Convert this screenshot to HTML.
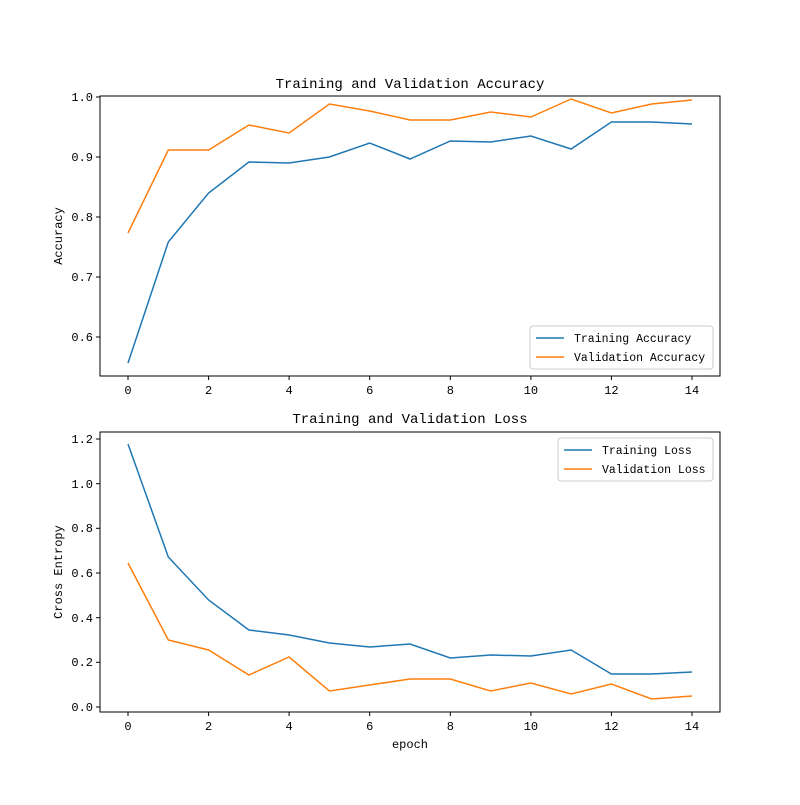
<!DOCTYPE html>
<html><head><meta charset="utf-8"><style>
body{margin:0;background:#fff}
svg text{font-family:"Liberation Mono","Noto Sans CJK SC",monospace;font-size:12px;fill:#000}
svg text.lg{font-size:11.5px}
</style></head><body>
<svg width="800" height="800" xmlns="http://www.w3.org/2000/svg">
<rect width="800" height="800" fill="#fff"/>
<text x="410" y="88" text-anchor="middle" style="font-size:14px">Training and Validation Accuracy</text>
<rect x="100" y="96" width="620" height="280" fill="none" stroke="#000" stroke-width="1"/>
<g stroke="#000">
<line x1="128" y1="376" x2="128" y2="380"/><line x1="208.6" y1="376" x2="208.6" y2="380"/><line x1="289.1" y1="376" x2="289.1" y2="380"/><line x1="369.7" y1="376" x2="369.7" y2="380"/><line x1="450.3" y1="376" x2="450.3" y2="380"/><line x1="530.9" y1="376" x2="530.9" y2="380"/><line x1="611.4" y1="376" x2="611.4" y2="380"/><line x1="692" y1="376" x2="692" y2="380"/>
<line x1="96" y1="97" x2="100" y2="97"/><line x1="96" y1="157" x2="100" y2="157"/><line x1="96" y1="217" x2="100" y2="217"/><line x1="96" y1="277" x2="100" y2="277"/><line x1="96" y1="337" x2="100" y2="337"/>
</g>
<g text-anchor="middle">
<text x="128" y="394">0</text><text x="208.6" y="394">2</text><text x="289.1" y="394">4</text><text x="369.7" y="394">6</text><text x="450.3" y="394">8</text><text x="530.9" y="394">10</text><text x="611.4" y="394">12</text><text x="692" y="394">14</text>
</g>
<g text-anchor="end">
<text x="93" y="101">1.0</text><text x="93" y="161">0.9</text><text x="93" y="221">0.8</text><text x="93" y="281">0.7</text><text x="93" y="341">0.6</text>
</g>
<text transform="translate(62,236) rotate(-90)" text-anchor="middle">Accuracy</text>
<polyline fill="none" stroke="#1f77b4" stroke-width="1.5" points="128,363 168.3,242 208.6,193 248.9,162 289.1,163 329.4,157 369.7,143 410,159 450.3,141 490.6,142 530.9,136 571.1,149 611.4,122 651.7,122 692,124"/>
<polyline fill="none" stroke="#ff7f0e" stroke-width="1.5" points="128,233 168.3,150 208.6,150 248.9,125 289.1,133 329.4,104 369.7,111 410,120 450.3,120 490.6,112 530.9,117 571.1,99 611.4,113 651.7,104 692,100"/>
<rect x="530" y="326" width="183" height="43" fill="#fff" stroke="#ccc" rx="3"/>
<line x1="536" y1="338" x2="564" y2="338" stroke="#1f77b4" stroke-width="1.5"/>
<text class="lg" x="574" y="342">Training Accuracy</text>
<line x1="536" y1="357" x2="564" y2="357" stroke="#ff7f0e" stroke-width="1.5"/>
<text class="lg" x="574" y="361">Validation Accuracy</text>
<text x="410" y="423" text-anchor="middle" style="font-size:14px">Training and Validation Loss</text>
<rect x="100" y="432" width="620" height="280" fill="none" stroke="#000" stroke-width="1"/>
<g stroke="#000">
<line x1="128" y1="712" x2="128" y2="716"/><line x1="208.6" y1="712" x2="208.6" y2="716"/><line x1="289.1" y1="712" x2="289.1" y2="716"/><line x1="369.7" y1="712" x2="369.7" y2="716"/><line x1="450.3" y1="712" x2="450.3" y2="716"/><line x1="530.9" y1="712" x2="530.9" y2="716"/><line x1="611.4" y1="712" x2="611.4" y2="716"/><line x1="692" y1="712" x2="692" y2="716"/>
<line x1="96" y1="439" x2="100" y2="439"/><line x1="96" y1="483.7" x2="100" y2="483.7"/><line x1="96" y1="528.3" x2="100" y2="528.3"/><line x1="96" y1="573" x2="100" y2="573"/><line x1="96" y1="617.7" x2="100" y2="617.7"/><line x1="96" y1="662.3" x2="100" y2="662.3"/><line x1="96" y1="707" x2="100" y2="707"/>
</g>
<g text-anchor="middle">
<text x="128" y="730">0</text><text x="208.6" y="730">2</text><text x="289.1" y="730">4</text><text x="369.7" y="730">6</text><text x="450.3" y="730">8</text><text x="530.9" y="730">10</text><text x="611.4" y="730">12</text><text x="692" y="730">14</text>
</g>
<g text-anchor="end">
<text x="93" y="443">1.2</text><text x="93" y="488">1.0</text><text x="93" y="532">0.8</text><text x="93" y="577">0.6</text><text x="93" y="622">0.4</text><text x="93" y="666">0.2</text><text x="93" y="711">0.0</text>
</g>
<text transform="translate(62,572) rotate(-90)" text-anchor="middle">Cross Entropy</text>
<text x="410" y="748" text-anchor="middle">epoch</text>
<polyline fill="none" stroke="#1f77b4" stroke-width="1.5" points="128,444 168.3,557 208.6,600 248.9,630 289.1,635 329.4,643 369.7,647 410,644 450.3,658 490.6,655 530.9,656 571.1,650 611.4,674 651.7,674 692,672"/>
<polyline fill="none" stroke="#ff7f0e" stroke-width="1.5" points="128,563 168.3,640 208.6,650 248.9,675 289.1,657 329.4,691 369.7,685 410,679 450.3,679 490.6,691 530.9,683 571.1,694 611.4,684 651.7,699 692,696"/>
<rect x="558" y="438" width="155" height="43" fill="#fff" stroke="#ccc" rx="3"/>
<line x1="564" y1="450" x2="592" y2="450" stroke="#1f77b4" stroke-width="1.5"/>
<text class="lg" x="602" y="454">Training Loss</text>
<line x1="564" y1="469" x2="592" y2="469" stroke="#ff7f0e" stroke-width="1.5"/>
<text class="lg" x="602" y="473">Validation Loss</text>
</svg>
</body></html>
